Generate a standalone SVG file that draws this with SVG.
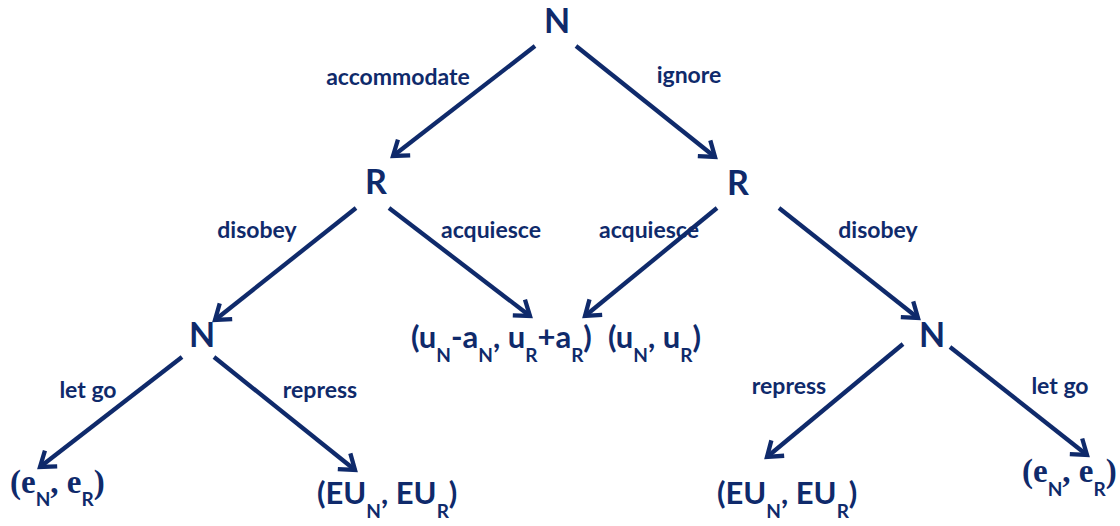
<svg xmlns="http://www.w3.org/2000/svg" width="1120" height="526" viewBox="0 0 1120 526">
<defs>
<style>
text{fill:#0f2a6b;font-family:Lato,"Open Sans","Liberation Sans",sans-serif;font-weight:bold}
.node{font-size:34px;text-anchor:middle}
.lbl{font-size:23px;text-anchor:middle}
.pay{font-size:31px}
.ser{font-family:"Liberation Serif",serif;font-size:33px}
.sub{font-family:Lato,"Open Sans","Liberation Sans",sans-serif;font-size:19px}
.edge{stroke:#0f2a6b;stroke-width:4.3;fill:none;marker-end:url(#arr)}
</style>
<marker id="arr" markerUnits="userSpaceOnUse" markerWidth="30" markerHeight="30" viewBox="-20 -15 24 30" refX="0" refY="0" orient="auto">
<path d="M-14,-10 L0,0 L-14,10" stroke="#0f2a6b" stroke-width="4.3" fill="none" stroke-linejoin="miter"/>
</marker>
</defs>
<rect width="1120" height="526" fill="#ffffff"/>
<g id="connectors">
<line class="edge" x1="535" y1="46" x2="393" y2="156"/>
<line class="edge" x1="576" y1="46" x2="715" y2="157"/>
<line class="edge" x1="356" y1="208" x2="215" y2="320"/>
<line class="edge" x1="389" y1="208" x2="530" y2="316"/>
<line class="edge" x1="717" y1="208" x2="585" y2="316"/>
<line class="edge" x1="779" y1="208" x2="918" y2="318"/>
<line class="edge" x1="182" y1="357" x2="40" y2="467"/>
<line class="edge" x1="214" y1="357" x2="355" y2="470"/>
<line class="edge" x1="903" y1="344" x2="767" y2="457"/>
<line class="edge" x1="950" y1="347" x2="1087" y2="455"/>
</g>
<g id="labels">
<text class="lbl" x="398" y="85">accommodate</text>
<text class="lbl" x="689" y="83">ignore</text>
<text class="lbl" x="257" y="238">disobey</text>
<text class="lbl" x="491" y="238">acquiesce</text>
<text class="lbl" x="649" y="238">acquiesce</text>
<text class="lbl" x="878" y="238">disobey</text>
<text class="lbl" x="88" y="398">let go</text>
<text class="lbl" x="320" y="398">repress</text>
<text class="lbl" x="789" y="394">repress</text>
<text class="lbl" x="1060" y="394">let go</text>
</g>
<g id="n-root"><text class="node" x="557" y="33">N</text></g>
<g id="r-left"><text class="node" x="376" y="194">R</text></g>
<g id="r-right"><text class="node" x="738" y="195">R</text></g>
<g id="n-left"><text class="node" x="202" y="347">N</text></g>
<g id="n-right"><text class="node" x="932" y="347">N</text></g>
<g id="pay-accommodate-acquiesce"><text class="pay" x="411" y="348">(u<tspan class="sub" dy="14">N</tspan><tspan dy="-14">-a</tspan><tspan class="sub" dy="14">N</tspan><tspan dy="-14">, u</tspan><tspan class="sub" dy="14">R</tspan><tspan dy="-14">+a</tspan><tspan class="sub" dy="14">R</tspan><tspan dy="-14">)</tspan></text></g>
<g id="pay-ignore-acquiesce"><text class="pay" x="608" y="348">(u<tspan class="sub" dy="14">N</tspan><tspan dy="-14">, u</tspan><tspan class="sub" dy="14">R</tspan><tspan dy="-14">)</tspan></text></g>
<g id="pay-left-letgo"><text class="ser" x="10" y="493">(e<tspan class="sub" dy="13">N</tspan><tspan dy="-13">, e</tspan><tspan class="sub" dy="13">R</tspan><tspan dy="-13">)</tspan></text></g>
<g id="pay-left-repress"><text class="pay" x="317" y="504">(EU<tspan class="sub" dy="14">N</tspan><tspan dy="-14">, EU</tspan><tspan class="sub" dy="14">R</tspan><tspan dy="-14">)</tspan></text></g>
<g id="pay-right-repress"><text class="pay" x="717" y="504">(EU<tspan class="sub" dy="14">N</tspan><tspan dy="-14">, EU</tspan><tspan class="sub" dy="14">R</tspan><tspan dy="-14">)</tspan></text></g>
<g id="pay-right-letgo"><text class="ser" x="1022" y="482">(e<tspan class="sub" dy="14">N</tspan><tspan dy="-14">, e</tspan><tspan class="sub" dy="14">R</tspan><tspan dy="-14">)</tspan></text></g>
</svg>
